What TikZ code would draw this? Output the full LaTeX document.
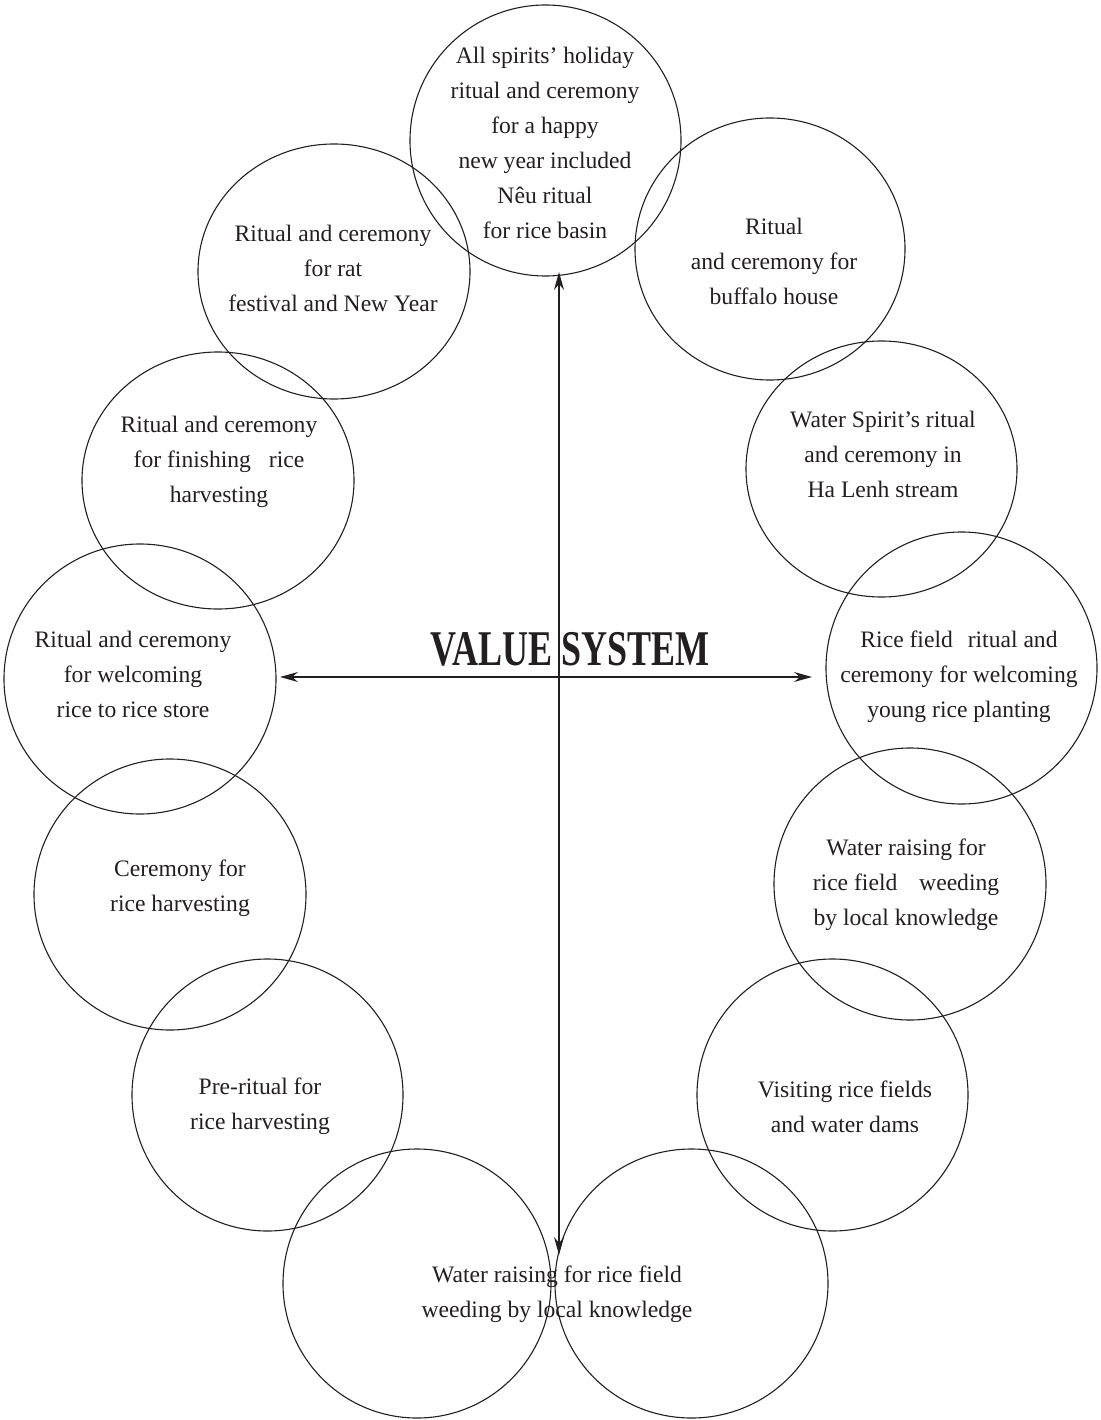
\documentclass[tikz,border=0pt]{standalone}
\usepackage{fontspec}
\setmainfont{Liberation Serif}
\usetikzlibrary{arrows.meta,shapes.geometric}
\definecolor{ink}{HTML}{231F20}
\tikzset{
  ring/.style={ellipse, draw=ink, line width=1.1bp, inner sep=0pt},
  sz/.style 2 args={minimum width=#1bp, minimum height=#2bp},
  caption/.style={align=center, text=ink, inner sep=0pt,
    font=\fontsize{23.6bp}{35bp}\selectfont},
  tip/.style={Stealth[length=18bp,width=10bp,inset=6bp]},
  axis/.style={draw=ink, line width=1.2bp, {Stealth[length=18bp,width=10bp,inset=6bp]}-{Stealth[length=18bp,width=10bp,inset=6bp]}}
}
\begin{document}
\begin{tikzpicture}[x=1bp,y=-1bp]
\useasboundingbox (0,0) rectangle (1100,1420);

% the ring of ceremonies
\node[ring, sz={271}{271}] (c1)  at (545.5,140.5) {};
\node[ring, sz={272}{255}] (c2)  at (334,271.5) {};
\node[ring, sz={270}{262}] (c3)  at (770,249) {};
\node[ring, sz={272}{257}] (c4)  at (218,480.5) {};
\node[ring, sz={271}{256}] (c5)  at (881.5,469) {};
\node[ring, sz={272}{270}] (c6)  at (140,679) {};
\node[ring, sz={271}{272}] (c7)  at (961.5,668) {};
\node[ring, sz={272}{271}] (c8)  at (170,894.5) {};
\node[ring, sz={272}{272}] (c9)  at (910,884) {};
\node[ring, sz={271}{272}] (c10) at (267.5,1095) {};
\node[ring, sz={271}{272}] (c11) at (832.5,1095) {};
\node[ring, sz={268}{269}] (c12) at (417,1283.5) {};
\node[ring, sz={273}{269}] (c13) at (691.5,1283.5) {};

% captions
\node[caption] (t1) at (545,144) {\strut All spirits’ holiday\\\strut ritual and ceremony\\\strut for a happy\\\strut new year included\\\strut Nêu ritual\\\strut for rice basin};
\node[caption] (t2) at (333,269) {\strut Ritual and ceremony\\\strut for rat\\\strut festival and New Year};
\node[caption] (t3) at (774,262.5) {\strut Ritual\\\strut and ceremony for\\\strut buffalo house};
\node[caption] (t4) at (883,455.5) {\strut Water Spirit’s ritual\\\strut and ceremony in\\\strut Ha Lenh stream};
\node[caption] (t5) at (219,460) {\strut Ritual and ceremony\\\strut for finishing\hspace{12bp} rice\\\strut harvesting};
\node[caption] (t6) at (959,675.5) {\strut Rice field\hspace{9bp} ritual and\\\strut ceremony for welcoming\\\strut young rice planting};
\node[caption] (t7) at (133,675) {\strut Ritual and ceremony\\\strut for welcoming\\\strut rice to rice store};
\node[caption] (t8) at (180,886.5) {\strut Ceremony for\\\strut rice harvesting};
\node[caption] (t9) at (906,883) {\strut Water raising for\\\strut rice field\hspace{16bp} weeding\\\strut by local knowledge};
\node[caption] (t10) at (260,1105) {\strut Pre-ritual for\\\strut rice harvesting};
\node[caption] (t11) at (845,1107.5) {\strut Visiting rice fields\\\strut and water dams};
\node[caption] (t12) at (557,1293) {\strut Water raising for rice field\\\strut weeding by local knowledge};

% central title
\node[anchor=base, inner sep=0pt, text=ink] (title) at (570,665)
  {\scalebox{0.72}[1]{\bfseries\fontsize{50bp}{50bp}\selectfont VALUE SYSTEM}};

% axes
\coordinate (vT) at (559,272);
\coordinate (vB) at (559,1255);
\coordinate (hL) at (280,677);
\coordinate (hR) at (812,677);
\draw[axis] (vB) -- (vT);
\draw[axis] (hL) -- (hR);
\end{tikzpicture}
\end{document}
